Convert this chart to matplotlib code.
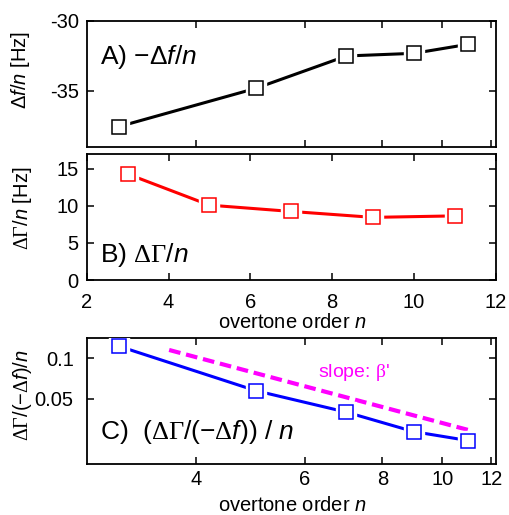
import numpy as np
import matplotlib
matplotlib.use('Agg')
import matplotlib.pyplot as plt
from matplotlib.ticker import NullLocator

plt.rcParams['font.family'] = 'Liberation Sans'
plt.rcParams['mathtext.fontset'] = 'custom'
plt.rcParams['mathtext.rm'] = 'Liberation Serif'
plt.rcParams['mathtext.it'] = 'Liberation Sans:italic'
plt.rcParams['mathtext.sf'] = 'Liberation Sans'

# data
n = [3, 5, 7, 9, 11]
df_n = [-37.57, -34.83, -32.52, -32.33, -31.69]
dG_n = [14.3, 10.1, 9.25, 8.45, 8.65]
ratio_n = [0.123, 0.0575, 0.0399, 0.0286, 0.0246]
slope_x = [3.62, 11.0]
slope_y = [0.1152, 0.0295]

log_ticks = [4, 6, 8, 10, 12]
lin_ticks = [2, 4, 6, 8, 10, 12]

W, H = 509, 515
fig = plt.figure(figsize=(W/100, H/100), dpi=100)

def box(l, t, r, b):
    return [l/W, 1-b/H, (r-l)/W, (b-t)/H]

def style(ax, xpad, ypad):
    ax.tick_params(direction='in', which='both', top=True, right=True,
                   length=5, width=1.1, labelsize=14.5)
    ax.tick_params(axis='x', pad=xpad)
    ax.tick_params(axis='y', pad=ypad)
    for s in ax.spines.values():
        s.set_linewidth(1.3)

def squares(ax, x, y, col):
    ax.plot(x, y, 's', ms=14, mfc='white', mec='white', zorder=3)
    ax.plot(x, y, 's', ms=9.5, mfc='white', mec=col, mew=1.1, zorder=4)

# A) -df/n
axA = fig.add_axes(box(86.7, 20.7, 495.7, 146.7))
axA.plot(n, df_n, '-', color='black', lw=2.2, zorder=2)
squares(axA, n, df_n, 'black')
axA.set_xscale('log')
axA.set_xlim(2.664, 12.2)
axA.set_xticks(log_ticks)
axA.xaxis.set_minor_locator(NullLocator())
axA.set_xticklabels([])
axA.set_ylim(-39, -30)
axA.set_yticks([-35, -30])
axA.set_yticklabels(['-35', '-30'])
style(axA, 4, 5.8)
axA.text(0.0325, 0.656, 'A) −Δ$\\it{f}$/$\\it{n}$', transform=axA.transAxes,
         fontsize=19, va='baseline', ha='left')

# B) dGamma/n
axB = fig.add_axes(box(86.7, 154, 495.7, 280))
axB.plot(n, dG_n, '-', color='red', lw=2.2, zorder=2)
squares(axB, n, dG_n, 'red')
axB.set_xlim(2, 12)
axB.set_xticks(lin_ticks)
axB.set_ylim(0, 17)
axB.set_yticks([0, 5, 10, 15])
style(axB, 9, 5.8)
axB.text(0.0325, 0.145, 'B) $\\Delta\\Gamma$/$\\it{n}$', transform=axB.transAxes,
         fontsize=19, va='baseline', ha='left')

# C) (dGamma/(-df))/n
axC = fig.add_axes(box(86.7, 337.7, 495.7, 464.3))
axC.plot(n, ratio_n, '-', color='blue', lw=2.2, zorder=2)
axC.plot(slope_x, slope_y, '--', color='magenta', lw=3, dashes=(2.8, 1.4), zorder=2)
squares(axC, n, ratio_n, 'blue')
axC.set_xscale('log')
axC.set_yscale('log')
axC.set_xlim(2.664, 12.2)
axC.set_xticks(log_ticks)
axC.set_xticklabels([str(t) for t in log_ticks])
axC.xaxis.set_minor_locator(NullLocator())
axC.set_ylim(0.0164, 0.142)
axC.set_yticks([0.05, 0.1])
axC.set_yticklabels(['0.05', '0.1'])
axC.yaxis.set_minor_locator(NullLocator())
style(axC, 4.3, 9.4)
axC.text(0.0325, 0.20, 'C)  ($\\Delta\\Gamma$/(−$\\Delta$$\\it{f}$)) / $\\it{n}$',
         transform=axC.transAxes, fontsize=19, va='baseline', ha='left')
axC.text(0.566, 0.692, "slope: $\\mathrm{\\beta}$'", transform=axC.transAxes,
         fontsize=14, color='magenta', va='baseline', ha='left')

# axis labels (gnuplot-like placement)
fig.text(20/W, 1-70.5/H, 'Δ$\\it{f}$/$\\it{n}$ [Hz]', rotation=90,
         fontsize=14.5, ha='center', va='center')
fig.text(22.5/W, 1-208/H, '$\\Delta\\Gamma$/$\\it{n}$ [Hz]', rotation=90,
         fontsize=14.5, ha='center', va='center')
fig.text(23/W, 1-395/H, '$\\Delta\\Gamma$/(−$\\Delta$$\\it{f}$)/$\\it{n}$', rotation=90,
         fontsize=14.5, ha='center', va='center')
fig.text(292/W, 1-328/H, 'overtone order $\\it{n}$', fontsize=14.5,
         ha='center', va='baseline')
fig.text(292/W, 1-511/H, 'overtone order $\\it{n}$', fontsize=14.5,
         ha='center', va='baseline')

fig.savefig('out.png', dpi=100)
